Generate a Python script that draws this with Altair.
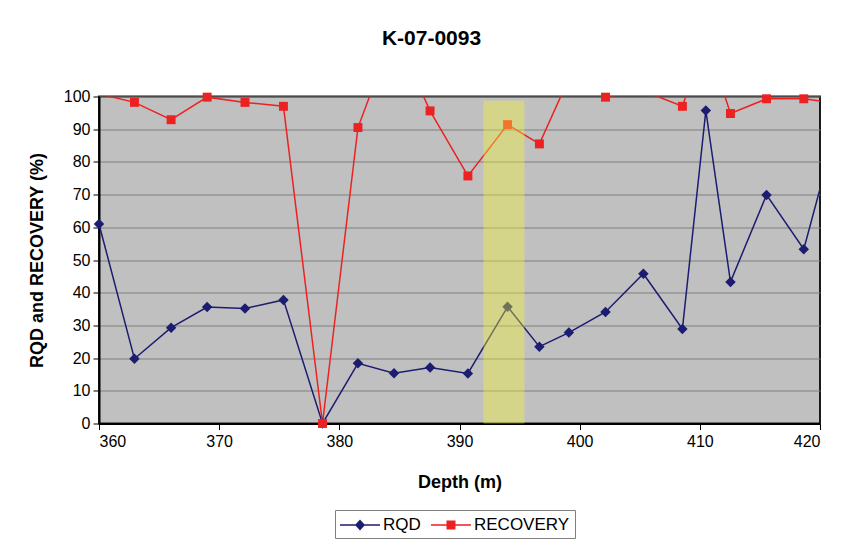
import altair as alt
import pandas as pd

# ---- data ----
depth = [360.0, 362.95, 366.0, 369.0, 372.15, 375.35, 378.6, 381.55, 384.55, 387.55,
         390.7, 394.0, 396.65, 399.1, 402.15, 405.3, 408.55, 410.5, 412.55, 415.55,
         418.65, 421.7]
rqd = [61.0, 19.8, 29.3, 35.6, 35.2, 37.8, 0.0, 18.4, 15.4, 17.1,
       15.3, 35.7, 23.5, 27.8, 34.1, 45.8, 28.9, 95.7, 43.3, 69.9,
       53.3, 95.0]
recovery = [100.8, 98.2, 92.9, 99.8, 98.2, 97.0, 0.0, 90.5, 120.0, 95.6,
            75.7, 91.4, 85.5, 105.5, 99.8, 101.7, 97.0, 118.0, 94.8, 99.3,
            99.3, 97.7]
series_names = ["RQD", "RECOVERY"]
series_colors = ["#1c1c70", "#ec2222"]
band_start = [392.0]
band_end = [395.4]
band_top = [98.7]
band_bottom = [0.0]
x_ticks = [360, 370, 380, 390, 400, 410, 420]
y_ticks = [0, 10, 20, 30, 40, 50, 60, 70, 80, 90, 100]

rows = []
for name, vals in zip(series_names, [rqd, recovery]):
    for d, v in zip(depth, vals):
        rows.append({"depth": d, "value": v, "series": name})
df = pd.DataFrame(rows)
band_df = pd.DataFrame({"start": band_start, "end": band_end,
                        "top": band_top, "bottom": band_bottom})

FONT = "Liberation Sans"

x_axis = alt.Axis(values=x_ticks, title="Depth (m)", grid=False, tickSize=6,
                  tickColor="black", domainColor="black", domainWidth=2,
                  labelFontSize=16, labelFont=FONT, labelColor="black", labelPadding=4,
                  titleFontSize=18, titleFont=FONT, titleFontWeight="bold",
                  titleColor="black", titlePadding=24)
y_axis = alt.Axis(values=y_ticks, title="RQD and RECOVERY (%)", grid=True,
                  gridColor="#7f7f7f", gridWidth=1.2, tickSize=6, tickColor="black",
                  domainColor="black", domainWidth=2, labelFontSize=16, labelFont=FONT,
                  labelColor="black", labelPadding=3, titleFontSize=18, titleFont=FONT,
                  titleFontWeight="bold", titleColor="black", titlePadding=17)

x_scale = alt.Scale(domain=[360, 420], nice=False, zero=False)
y_scale = alt.Scale(domain=[0, 100], nice=False)

# legend symbols: a thin filled bar (the line) with the marker in its middle
PATH_RQD = "M-1,-0.075L3,-0.075L3,0.075L-1,0.075Z M0.5,0L1,-0.55L1.5,0L1,0.55Z"
PATH_REC = "M-1,-0.075L3,-0.075L3,0.075L-1,0.075Z M0.55,-0.45L1.45,-0.45L1.45,0.45L0.55,0.45Z"

legend = alt.Legend(
    orient="none", legendX=236, legendY=413.5, direction="horizontal", title=None,
    symbolSize=400, symbolStrokeWidth=0, symbolOpacity=1,
    labelFontSize=17, labelFont=FONT, labelColor="black", labelOffset=23,
    columnPadding=10, padding=5, strokeColor="#7f7f7f", fillColor="white",
)

visible = "datum.value <= 100 && datum.depth >= 360 && datum.depth <= 420"
layers = []
for name, col in zip(series_names, series_colors):
    sel = "datum.series === '%s'" % name
    layers.append(
        alt.Chart(df).mark_line(clip=True, strokeWidth=1.5, color=col)
        .transform_filter(sel)
        .encode(x=alt.X("depth:Q", scale=x_scale, axis=x_axis),
                y=alt.Y("value:Q", scale=y_scale, axis=y_axis))
    )
for name, col, shp, sz in zip(series_names, series_colors, ["diamond", "square"], [110, 80]):
    sel = "datum.series === '%s'" % name
    layers.append(
        alt.Chart(df).mark_point(filled=True, opacity=1, clip=False, shape=shp, size=sz, color=col)
        .transform_filter(visible + " && " + sel)
        .encode(x=alt.X("depth:Q", scale=x_scale, axis=x_axis),
                y=alt.Y("value:Q", scale=y_scale, axis=y_axis))
    )

band = alt.Chart(band_df).mark_rect(color="#f6f43a", opacity=0.4).encode(
    x=alt.X("start:Q", scale=x_scale, axis=x_axis),
    x2="end:Q",
    y=alt.Y("top:Q", scale=y_scale, axis=y_axis),
    y2="bottom:Q",
)
layers.append(band)

# legend-only layer (no rows drawn): line-with-marker symbols
legend_layer = alt.Chart(df).mark_point(filled=True, opacity=1, strokeWidth=0).transform_filter(
    "false"
).encode(
    x=alt.X("depth:Q", scale=x_scale, axis=x_axis),
    y=alt.Y("value:Q", scale=y_scale, axis=y_axis),
    fill=alt.Fill("series:N", scale=alt.Scale(domain=series_names, range=series_colors),
                  legend=legend),
    shape=alt.Shape("series:N", scale=alt.Scale(domain=series_names, range=[PATH_RQD, PATH_REC]),
                    legend=legend),
)
layers.append(legend_layer)

chart = alt.layer(*layers).properties(
    width=721, height=327,
    title=alt.TitleParams("K-07-0093", font=FONT, fontSize=21, fontWeight="bold",
                          color="black", anchor="middle", frame="group", dx=-28, offset=40),
    autosize=alt.AutoSizeParams(type="none"),
    padding={"left": 91, "top": 88.5, "right": 10, "bottom": 116.5},
    background="white",
).configure_view(
    fill="#c0c0c0", stroke="#1a1a1a", strokeWidth=2
)

chart.save("out.html", embed_options={"renderer": "svg", "actions": False})
